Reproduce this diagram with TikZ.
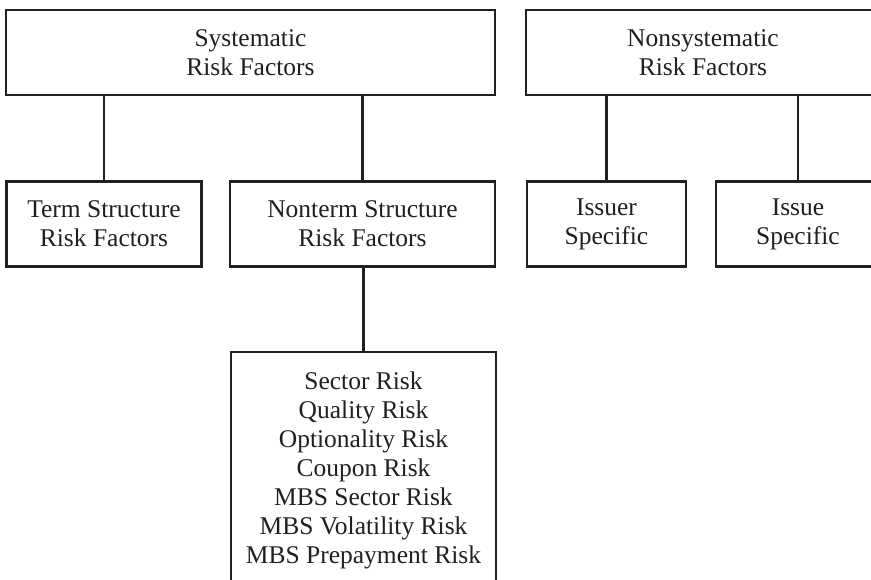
\documentclass[tikz,border=0pt]{standalone}
\usepackage{fontspec}
\setmainfont{Liberation Serif}
\definecolor{ink}{HTML}{231F20}
\begin{document}
\begin{tikzpicture}[x=1pt,y=-1pt,
  box/.style={draw=ink, line width=2.4pt, inner sep=0pt, align=center,
    font=\fontsize{25.5}{29}\selectfont, text=ink},
  link/.style={draw=ink, line width=2.4pt}]
\clip (0,0) rectangle (871,579);
\fill[white] (0,0) rectangle (871,579);
\node[box, minimum width=489pt, minimum height=85pt] (sys) at (250.5,52.5) {Systematic\\Risk Factors};
\node[box, minimum width=354pt, minimum height=85pt] (nonsys) at (703,52.5) {Nonsystematic\\Risk Factors};
\node[box, minimum width=195pt, minimum height=85pt] (term) at (104,224) {Term Structure\\Risk Factors};
\node[box, minimum width=265pt, minimum height=85pt] (nonterm) at (362.5,224) {Nonterm Structure\\Risk Factors};
\node[box, minimum width=159pt, minimum height=85pt] (issuer) at (606.5,224) {Issuer\\Specific};
\node[box, minimum width=164pt, minimum height=85pt] (issue) at (798,224) {Issue\\Specific};
\node[box, minimum width=265pt, minimum height=236pt] (detail) at (363.5,470) {Sector Risk\\Quality Risk\\Optionality Risk\\Coupon Risk\\MBS Sector Risk\\MBS Volatility Risk\\MBS Prepayment Risk};
\draw[link] (term.north |- sys.south) -- (term.north);
\draw[link] (nonterm.north |- sys.south) -- (nonterm.north);
\draw[link] (issuer.north |- nonsys.south) -- (issuer.north);
\draw[link] (issue.north |- nonsys.south) -- (issue.north);
\draw[link] (detail.north |- nonterm.south) -- (detail.north);
\end{tikzpicture}
\end{document}
